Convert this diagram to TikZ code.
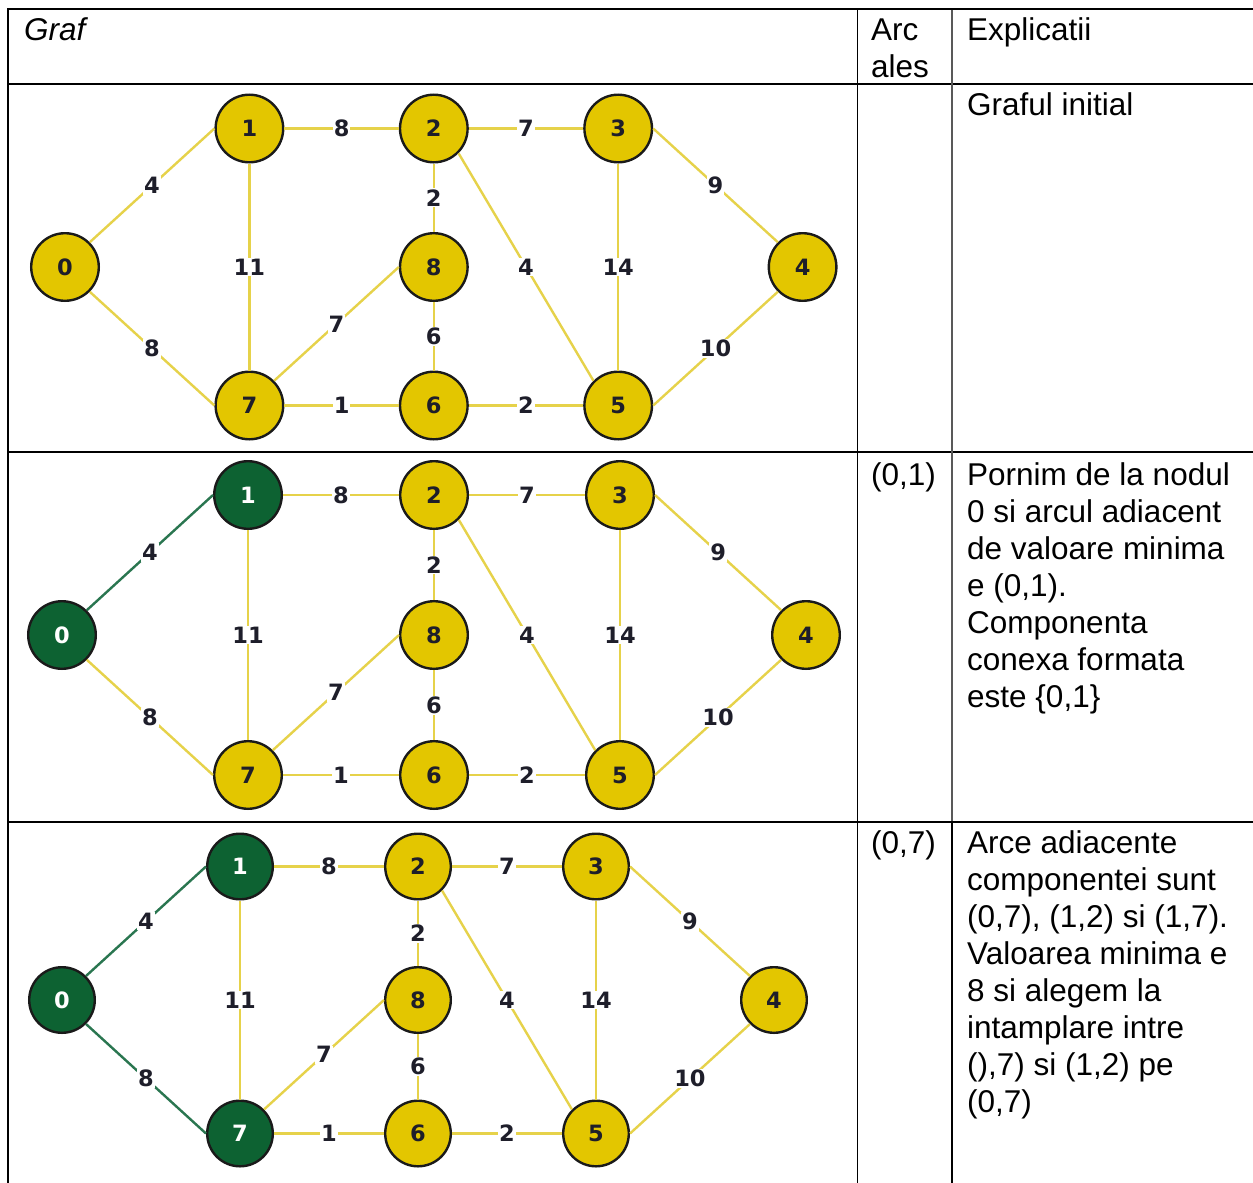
\documentclass[tikz,border=0pt]{standalone}
\usepackage{fontspec}
\setmainfont{Liberation Sans}
\newfontfamily\gfont{DejaVu Sans}
\definecolor{nyellow}{HTML}{E3C600}
\definecolor{eyellow}{HTML}{E6D24A}
\definecolor{ngreen}{HTML}{0D6232}
\definecolor{egreen}{HTML}{2A7650}
\definecolor{ndark}{HTML}{1A1A1A}
\definecolor{ltext}{HTML}{1E1E2A}
\begin{document}
\begin{tikzpicture}[x=1pt,y=-1pt,
  vy/.style={circle, draw=ndark, line width=2.4pt, fill=nyellow, text=ltext,
    minimum size=67.6pt, inner sep=0pt, font=\gfont\bfseries\fontsize{22.5}{23}\selectfont},
  vg/.style={vy, fill=ngreen, text=white},
  ey/.style={draw=eyellow, line width=2.4pt},
  eg/.style={draw=egreen, line width=2.4pt},
  lab/.style={fill=white, inner sep=1pt, text=ltext, font=\gfont\bfseries\fontsize{22.5}{23}\selectfont},
  txt/.style={anchor=base west, inner sep=0pt, font=\fontsize{31.5}{37}\selectfont},
  hline/.style={line width=2pt, draw=black},
  vline/.style={line width=1.5pt, draw=black}]
\useasboundingbox (0,0) rectangle (1253,1183);
\fill[white] (0,0) rectangle (1253,1183);

% ---------- table ----------
\foreach \yy in {9,84,452,822} \draw[hline] (7,\yy) -- (1253,\yy);
\draw[line width=2.5pt] (8,8) -- (8,1183);
\draw[vline] (857.5,9) -- (857.5,1183);
\draw[line width=1.3pt, draw=black!65] (952,10) -- (952,821);
\draw[vline] (952,822) -- (952,1183);

\node[txt] (hgraf) at (24,40) {\itshape Graf};
\node[txt] (harc) at (871,40) {\parbox[t]{80pt}{Arc\\ales}};
\node[txt] (hexp) at (967,40) {Explicatii};
\node[txt] (t1) at (967,115) {Graful initial};
\node[txt] (a2) at (871,485) {(0,1)};
\node[txt] (t2) at (967,485) {\parbox[t]{400pt}{\raggedright Pornim de la nodul\\0 si arcul adiacent\\de valoare minima\\e (0,1).\\Componenta\\conexa formata\\este \{0,1\}}};
\node[txt] (a3) at (871,853) {(0,7)};
\node[txt] (t3) at (967,853) {\parbox[t]{400pt}{\raggedright Arce adiacente\\componentei sunt\\(0,7), (1,2) si (1,7).\\Valoarea minima e\\8 si alegem la\\intamplare intre\\(),7) si (1,2) pe\\(0,7)}};

% ---------- graph 1 ----------
\foreach \n/\c/\r/\s in {0/0/0/vy,1/1/-1/vy,2/2/-1/vy,3/3/-1/vy,4/4/0/vy,8/2/0/vy,7/1/1/vy,6/2/1/vy,5/3/1/vy}
  \node[\s] (p\n) at ({65+\c*184.4},{267+\r*138.5}) {\n};
\foreach \a/\sa/\b/\sb/\w/\s in {0/45/1/west/4/ey,0/-45/7/west/8/ey,1/east/2/west/8/ey,1/south/7/north/11/ey,
  2/east/3/west/7/ey,2/south/8/north/2/ey,2/-45/5/135/4/ey,3/south/5/north/14/ey,3/east/4/135/9/ey,
  7/45/8/west/7/ey,7/east/6/west/1/ey,8/south/6/north/6/ey,6/east/5/west/2/ey,5/east/4/-135/10/ey}
  \draw[\s] (p\a.\sa) -- node[lab] (pl\a\b) {\w} (p\b.\sb);

% ---------- graph 2 ----------
\foreach \n/\c/\r/\s in {0/0/0/vg,1/1/-1/vg,2/2/-1/vy,3/3/-1/vy,4/4/0/vy,8/2/0/vy,7/1/1/vy,6/2/1/vy,5/3/1/vy}
  \node[\s] (q\n) at ({62+\c*186},{635+\r*140}) {\n};
\foreach \a/\sa/\b/\sb/\w/\s in {0/45/1/west/4/eg,0/-45/7/west/8/ey,1/east/2/west/8/ey,1/south/7/north/11/ey,
  2/east/3/west/7/ey,2/south/8/north/2/ey,2/-45/5/135/4/ey,3/south/5/north/14/ey,3/east/4/135/9/ey,
  7/45/8/west/7/ey,7/east/6/west/1/ey,8/south/6/north/6/ey,6/east/5/west/2/ey,5/east/4/-135/10/ey}
  \draw[\s] (q\a.\sa) -- node[lab] (ql\a\b) {\w} (q\b.\sb);

% ---------- graph 3 ----------
\foreach \n/\c/\r/\s in {0/0/0/vg,1/1/-1/vg,2/2/-1/vy,3/3/-1/vy,4/4/0/vy,8/2/0/vy,7/1/1/vg,6/2/1/vy,5/3/1/vy}
  \node[\s, minimum size=65.6pt] (r\n) at ({62+\c*178},{1000+\r*133.5}) {\n};
\foreach \a/\sa/\b/\sb/\w/\s in {0/45/1/west/4/eg,0/-45/7/west/8/eg,1/east/2/west/8/ey,1/south/7/north/11/ey,
  2/east/3/west/7/ey,2/south/8/north/2/ey,2/-45/5/135/4/ey,3/south/5/north/14/ey,3/east/4/135/9/ey,
  7/45/8/west/7/ey,7/east/6/west/1/ey,8/south/6/north/6/ey,6/east/5/west/2/ey,5/east/4/-135/10/ey}
  \draw[\s] (r\a.\sa) -- node[lab] (rl\a\b) {\w} (r\b.\sb);
\end{tikzpicture}
\end{document}
